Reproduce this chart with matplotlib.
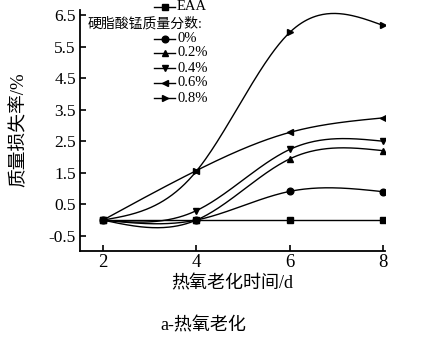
import numpy as np
import matplotlib
matplotlib.use("Agg")
import matplotlib.pyplot as plt
from matplotlib.lines import Line2D

plt.rcParams['font.family'] = ['Liberation Serif', 'Noto Sans CJK SC']

days = [2, 4, 6, 8]
series_labels = ["EAA", "0%", "0.2%", "0.4%", "0.6%", "0.8%"]
eaa = [0, 0, 0, 0]
p0 = [0, 0, 0.91, 0.90]
p02 = [0, 0, 1.94, 2.20]
p04 = [0, 0.30, 2.24, 2.50]
p06 = [0, 1.57, 2.78, 3.24]
p08 = [0, 1.55, 5.95, 6.17]
markers = ['s', 'o', '^', 'v', '<', '>']
yticks = [-0.5, 0.5, 1.5, 2.5, 3.5, 4.5, 5.5, 6.5]
xticks = [2, 4, 6, 8]
legend_title = "硬脂酸锰质量分数:"

W, H = 429, 343


def natural_spline(x, y, n=200):
    x = np.asarray(x, float)
    y = np.asarray(y, float)
    k = len(x)
    h = np.diff(x)
    A = np.zeros((k, k))
    b = np.zeros(k)
    A[0, 0] = 1
    A[-1, -1] = 1
    for i in range(1, k - 1):
        A[i, i - 1] = h[i - 1]
        A[i, i] = 2 * (h[i - 1] + h[i])
        A[i, i + 1] = h[i]
        b[i] = 6 * ((y[i + 1] - y[i]) / h[i] - (y[i] - y[i - 1]) / h[i - 1])
    M = np.linalg.solve(A, b)
    xs = np.linspace(x[0], x[-1], n)
    ys = np.empty_like(xs)
    for j, xv in enumerate(xs):
        i = int(np.clip(np.searchsorted(x, xv, side='right') - 1, 0, k - 2))
        t1 = x[i + 1] - xv
        t0 = xv - x[i]
        hi = h[i]
        ys[j] = (M[i] * t1 ** 3 / (6 * hi) + M[i + 1] * t0 ** 3 / (6 * hi)
                 + (y[i] / hi - M[i] * hi / 6) * t1
                 + (y[i + 1] / hi - M[i + 1] * hi / 6) * t0)
    return xs, ys


fig = plt.figure(figsize=(W / 100, H / 100), dpi=100)
ax = fig.add_axes([80 / W, (H - 251) / H, (385 - 80) / W, (251 - 10) / H])

all_series = [eaa, p0, p02, p04, p06, p08]
for vals, m in zip(all_series, markers):
    xs, ys = natural_spline(days, vals)
    ax.plot(xs, ys, color='black', lw=1.0)
    ax.plot(days, vals, linestyle='none', marker=m, color='black', markersize=4.8)

ax.set_xlim(1.507, 8.04)
ax.set_ylim(-0.98, 6.66)
ax.set_xticks(xticks)
ax.set_yticks(yticks)
ax.set_yticklabels([f"{v:.1f}" for v in yticks])
ax.tick_params(direction='in', length=4, width=1.2)
ax.tick_params(axis='y', labelsize=12.5, pad=3)
ax.tick_params(axis='x', labelsize=13.5, pad=2)
for s in ['top', 'right']:
    ax.spines[s].set_visible(False)
for s in ['left', 'bottom']:
    ax.spines[s].set_linewidth(1.3)

fig.text(232 / W, 1 - 284 / H, "热氧老化时间/d", fontsize=13, ha='center', va='center')
fig.text(19 / W, 1 - 130 / H, "质量损失率/%", fontsize=13.5, ha='center', va='center',
         rotation=90)

# legend (drawn manually to match row positions)
row_y = [7, 39, 53, 68, 83, 98]
for m, lab, yy in zip(markers, series_labels, row_y):
    yf = 1 - yy / H
    fig.add_artist(Line2D([154 / W, 175 / W], [yf, yf], color='black', lw=1.0,
                          transform=fig.transFigure))
    fig.add_artist(Line2D([164.5 / W], [yf], color='black', marker=m, markersize=4.8,
                          linestyle='none', transform=fig.transFigure))
    fig.text(177 / W, yf, lab, fontsize=10.5, ha='left', va='center')
fig.text(88 / W, 1 - 24 / H, legend_title, fontsize=10, ha='left', va='center')

fig.text(203 / W, 1 - 326 / H, "a-热氧老化", fontsize=13, ha='center', va='center')

fig.savefig("out.png", dpi=100)
